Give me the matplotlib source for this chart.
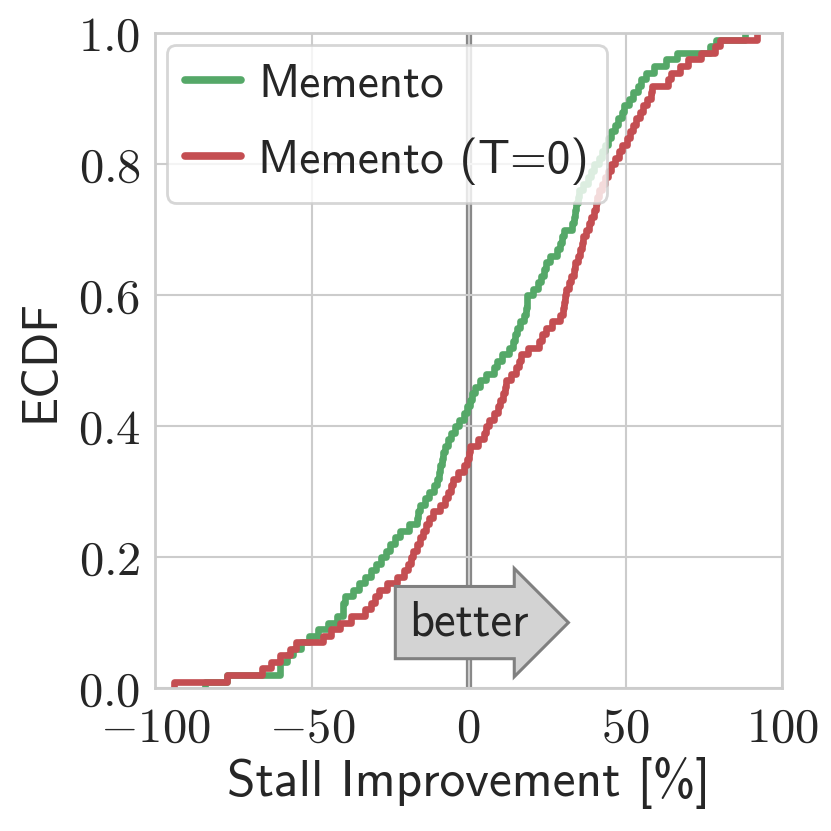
import matplotlib
matplotlib.use("Agg")
import matplotlib.pyplot as plt
import seaborn as sns
import numpy as np

# Stall improvement samples [%]
memento = [-84, -77, -60, -60, -58, -56, -53.5, -51, -48, -45,
           -42, -40, -40, -39.5, -37, -35, -33, -31, -29.5, -28,
           -26.5, -25, -23.5, -22, -19, -16.5, -16, -15.5, -14, -12.5,
           -11, -10, -9.5, -9, -8.5, -8.3, -7.5, -6.5, -5.5, -4.5,
           -3, -1.5, -0.5, 0.5, 1, 2, 3.5, 5.5, 8, 9,
           10.5, 13, 14, 14.8, 15.5, 16.5, 17.5, 18.2, 18.5, 18.7,
           20.5, 22, 23, 24, 24.8, 26, 28, 29, 29.6, 30.5,
           33, 33.5, 34, 34.3, 34.8, 35.2, 36.5, 38, 39, 40,
           41.5, 42.5, 43.5, 44.5, 45.5, 46.5, 47.5, 48.9, 49.5, 51,
           52.5, 54, 55, 56.5, 59, 63, 66.5, 77, 78.7, 88]
memento_t0 = [-94, -77, -66, -63, -60, -57, -55, -46.5, -44, -41,
              -37.5, -33, -31, -30, -28.5, -26, -23, -20.5, -19.5, -18.5,
              -17.8, -16.5, -15.5, -14.5, -13.5, -12.5, -11.5, -9, -7.5, -6.5,
              -5.5, -5, -3.5, -1.5, -0.5, 0, 0.5, 3, 5, 5.5,
              6.5, 8, 9.3, 10, 10.8, 11.5, 12, 13.5, 15, 16,
              16.8, 19, 22.5, 23.5, 24.8, 26.5, 29, 30, 30.3, 30.6,
              31, 32, 32.7, 33.5, 34, 34.8, 35.5, 36, 36.5, 37.5,
              38.5, 39, 39.8, 40.5, 41, 41.6, 42.5, 43.5, 44.5, 45.5,
              46.5, 47.8, 49, 50.5, 51.5, 52.5, 53.3, 54.5, 55.7, 56.7,
              58, 58.4, 63.5, 64.5, 67.5, 70, 74, 78.5, 80, 92]
series_labels = ["Memento", "Memento (T=0)"]
series_colors = ["#55a868", "#c44e52"]
xticks = [-100, -50, 0, 50, 100]
yticks = [0.0, 0.2, 0.4, 0.6, 0.8, 1.0]

sns.set_style("whitegrid")
plt.rcParams['font.family'] = ['cmss10', 'DejaVu Sans']
plt.rcParams['mathtext.fontset'] = 'cm'
plt.rcParams['axes.unicode_minus'] = False

fig = plt.figure(figsize=(8.31, 8.31), dpi=100)
ax = fig.add_axes([0.1865, 0.172, 0.755, 0.788])

ax.axvline(0, color="#888888", lw=4.5, zorder=0.4)
for data, lab, col in zip([memento, memento_t0], series_labels, series_colors):
    sns.ecdfplot(x=np.array(data, dtype=float), ax=ax, color=col, lw=4.8, label=lab,
                 solid_joinstyle="round", solid_capstyle="round")

ax.set_xlim(-100, 100)
ax.set_ylim(0, 1)
ax.set_xticks(xticks)
ax.set_xticklabels([f"${t}$" for t in xticks])
ax.set_yticks(yticks)
ax.set_yticklabels([f"${t:.1f}$" for t in yticks])
ax.tick_params(axis="both", labelsize=35, colors="#262626")
ax.tick_params(axis="x", pad=10)
ax.tick_params(axis="y", pad=7)
ax.grid(True, color="#cccccc", lw=1.5)
for s in ax.spines.values():
    s.set_color("#cccccc")
    s.set_linewidth(2)

ax.set_xlabel("Stall Improvement [%]", fontsize=37, color="#262626", labelpad=4)
ax.set_ylabel("ECDF", fontsize=35, color="#262626", labelpad=10)

ax.text(0, 0.1, "better", fontsize=35, ha="center", va="center", color="#262626",
        bbox=dict(boxstyle="rarrow,pad=0.28", fc="lightgray", ec="gray", lw=2.2))

leg = ax.legend(loc="upper left", fontsize=34, frameon=True, handlelength=1.2,
                borderaxespad=0.25, handletextpad=0.35, labelspacing=0.68,
                borderpad=0.38)
leg.get_frame().set_edgecolor("#cccccc")
leg.get_frame().set_linewidth(2)
for t in leg.get_texts():
    t.set_color("#262626")
for h in leg.get_lines():
    h.set_solid_capstyle("round")
    h.set_linewidth(5.5)

fig.savefig("out.png", dpi=100)
